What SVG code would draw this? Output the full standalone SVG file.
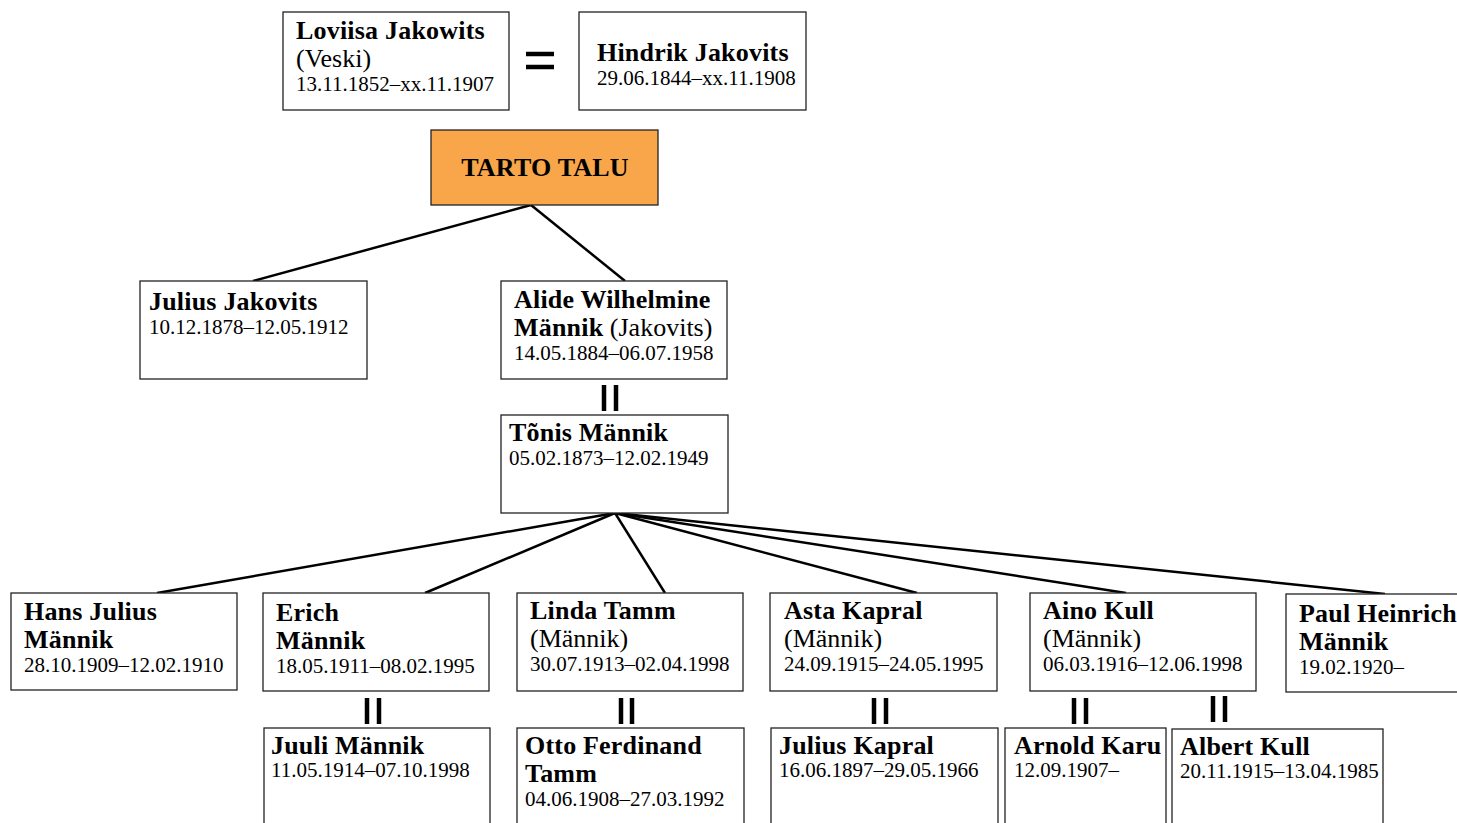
<svg xmlns="http://www.w3.org/2000/svg" width="1457" height="823" viewBox="0 0 1457 823">
<style>
.box{fill:#fff;stroke:#222;stroke-width:1.3}
.farm{fill:#F8A649;stroke:#222;stroke-width:1.3}
text{font-family:"Liberation Serif","Times New Roman",serif;fill:#000}
.b{font-weight:bold;font-size:26px;letter-spacing:0.2px}
.r{font-size:26px}
.d{font-size:21px}
.conn line{stroke:#000;stroke-width:2.5}
.mar line{stroke:#000;stroke-width:4.5}
</style>
<rect width="1457" height="823" fill="#fff"/>
<g class="conn" id="connectors">
<line x1="531" y1="205" x2="253" y2="281"/>
<line x1="531" y1="205" x2="625" y2="281"/>
<line x1="615" y1="513" x2="157" y2="593"/>
<line x1="615" y1="513" x2="425" y2="593"/>
<line x1="615" y1="513" x2="665" y2="593"/>
<line x1="615" y1="513" x2="917" y2="593"/>
<line x1="615" y1="513" x2="1126" y2="593"/>
<line x1="615" y1="513" x2="1385" y2="594"/>
</g>
<g class="mar" id="marriages">
<line x1="526" y1="54" x2="554" y2="54"/>
<line x1="526" y1="67" x2="554" y2="67"/>
<line x1="604" y1="385" x2="604" y2="411"/>
<line x1="616" y1="385" x2="616" y2="411"/>
<line x1="367" y1="698" x2="367" y2="724"/>
<line x1="379" y1="698" x2="379" y2="724"/>
<line x1="621" y1="698" x2="621" y2="724"/>
<line x1="632" y1="698" x2="632" y2="724"/>
<line x1="874" y1="698" x2="874" y2="724"/>
<line x1="886" y1="698" x2="886" y2="724"/>
<line x1="1074" y1="698" x2="1074" y2="724"/>
<line x1="1086" y1="698" x2="1086" y2="724"/>
<line x1="1213" y1="696" x2="1213" y2="722"/>
<line x1="1225" y1="696" x2="1225" y2="722"/>
</g>
<g id="loviisa">
<rect class="box" x="283" y="12" width="226" height="98"/>
<text class="b" x="296" y="39">Loviisa Jakowits</text>
<text class="r" x="296" y="67">(Veski)</text>
<text class="d" x="296" y="91">13.11.1852–xx.11.1907</text>
</g>
<g id="hindrik">
<rect class="box" x="579" y="12" width="227" height="98"/>
<text class="b" x="597" y="61">Hindrik Jakovits</text>
<text class="d" x="597" y="85">29.06.1844–xx.11.1908</text>
</g>
<g id="tarto">
<rect class="farm" x="431" y="130" width="227" height="75"/>
<text class="b" x="545" y="176" text-anchor="middle">TARTO TALU</text>
</g>
<g id="julius_j">
<rect class="box" x="140" y="281" width="227" height="98"/>
<text class="b" x="149" y="310">Julius Jakovits</text>
<text class="d" x="149" y="334">10.12.1878–12.05.1912</text>
</g>
<g id="alide">
<rect class="box" x="501" y="281" width="226" height="98"/>
<text class="b" x="514" y="308">Alide Wilhelmine</text>
<text x="514" y="336"><tspan class="b">Männik</tspan><tspan class="r"> (Jakovits)</tspan></text>
<text class="d" x="514" y="360">14.05.1884–06.07.1958</text>
</g>
<g id="tonis">
<rect class="box" x="501" y="415" width="227" height="98"/>
<text class="b" x="509" y="441">Tõnis Männik</text>
<text class="d" x="509" y="465">05.02.1873–12.02.1949</text>
</g>
<g id="hans">
<rect class="box" x="11" y="593" width="226" height="97"/>
<text class="b" x="24" y="620">Hans Julius</text>
<text class="b" x="24" y="648">Männik</text>
<text class="d" x="24" y="672">28.10.1909–12.02.1910</text>
</g>
<g id="erich">
<rect class="box" x="263" y="593" width="226" height="98"/>
<text class="b" x="276" y="621">Erich</text>
<text class="b" x="276" y="649">Männik</text>
<text class="d" x="276" y="673">18.05.1911–08.02.1995</text>
</g>
<g id="linda">
<rect class="box" x="517" y="593" width="226" height="98"/>
<text class="b" x="530" y="619">Linda Tamm</text>
<text class="r" x="530" y="647">(Männik)</text>
<text class="d" x="530" y="671">30.07.1913–02.04.1998</text>
</g>
<g id="asta">
<rect class="box" x="770" y="593" width="227" height="98"/>
<text class="b" x="784" y="619">Asta Kapral</text>
<text class="r" x="784" y="647">(Männik)</text>
<text class="d" x="784" y="671">24.09.1915–24.05.1995</text>
</g>
<g id="aino">
<rect class="box" x="1030" y="593" width="226" height="98"/>
<text class="b" x="1043" y="619">Aino Kull</text>
<text class="r" x="1043" y="647">(Männik)</text>
<text class="d" x="1043" y="671">06.03.1916–12.06.1998</text>
</g>
<g id="paul">
<rect class="box" x="1286" y="594" width="227" height="98"/>
<text class="b" x="1299" y="622">Paul Heinrich</text>
<text class="b" x="1299" y="650">Männik</text>
<text class="d" x="1299" y="674">19.02.1920–</text>
</g>
<g id="juuli">
<rect class="box" x="264" y="728" width="226" height="98"/>
<text class="b" x="271" y="754">Juuli Männik</text>
<text class="d" x="271" y="777">11.05.1914–07.10.1998</text>
</g>
<g id="otto">
<rect class="box" x="517" y="728" width="227" height="98"/>
<text class="b" x="525" y="754">Otto Ferdinand</text>
<text class="b" x="525" y="782">Tamm</text>
<text class="d" x="525" y="806">04.06.1908–27.03.1992</text>
</g>
<g id="julius_k">
<rect class="box" x="771" y="728" width="227" height="98"/>
<text class="b" x="779" y="754">Julius Kapral</text>
<text class="d" x="779" y="777">16.06.1897–29.05.1966</text>
</g>
<g id="arnold">
<rect class="box" x="1005" y="728" width="161" height="98"/>
<text class="b" x="1014" y="754">Arnold Karu</text>
<text class="d" x="1014" y="777">12.09.1907–</text>
</g>
<g id="albert">
<rect class="box" x="1172" y="729" width="211" height="98"/>
<text class="b" x="1180" y="755">Albert Kull</text>
<text class="d" x="1180" y="778">20.11.1915–13.04.1985</text>
</g>
</svg>
